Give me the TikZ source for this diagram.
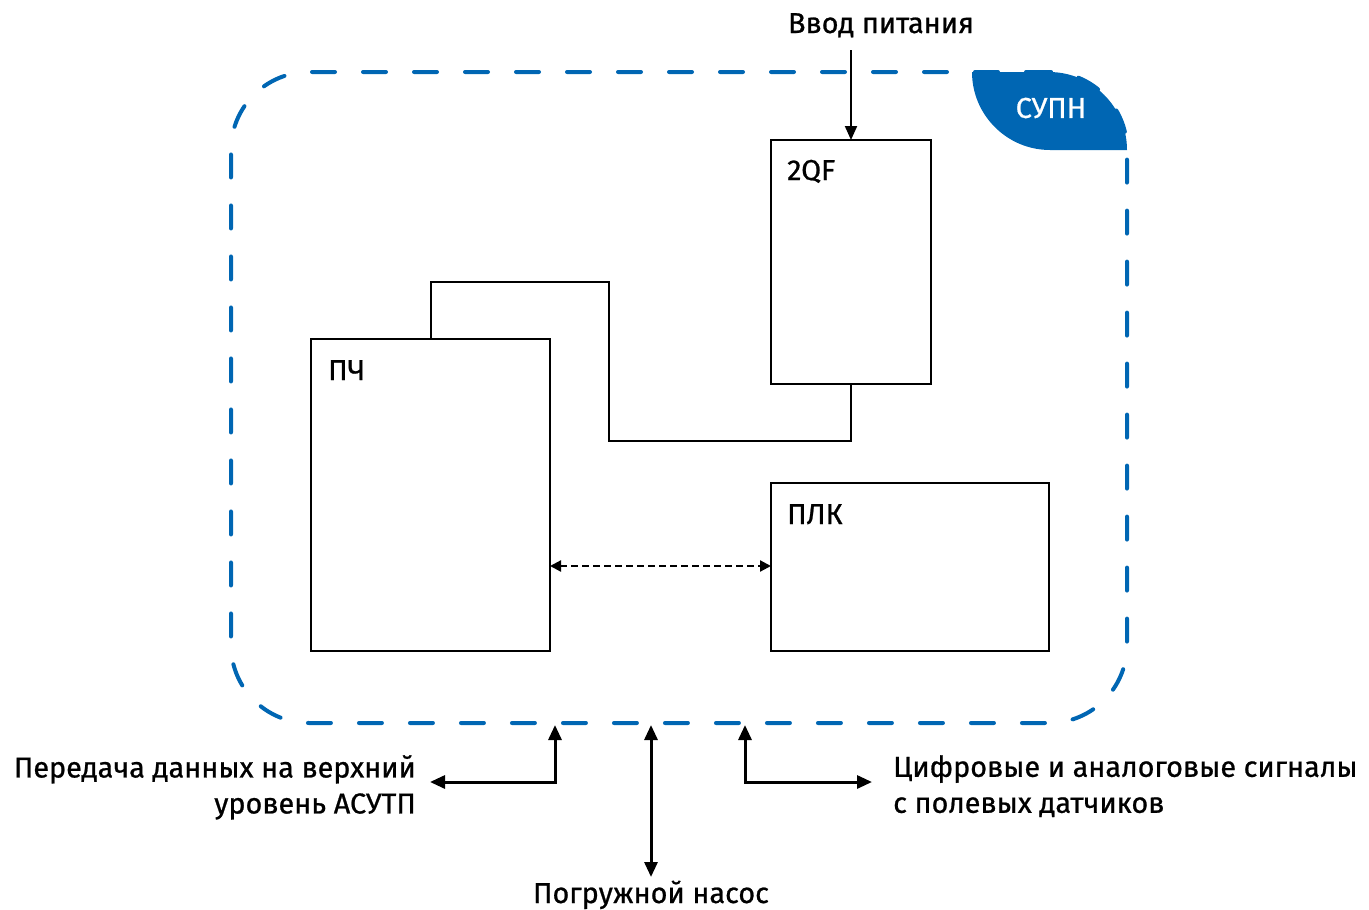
\documentclass[tikz,border=0pt]{standalone}
\usepackage{fontspec}
\setmainfont{Fira Sans}[RawFeature={embolden=0.8}]
\usetikzlibrary{arrows.meta,calc}
\definecolor{supnblue}{RGB}{0,102,179}

\begin{document}
\begin{tikzpicture}[x=1pt,y=-1pt,
  font=\fontsize{28.8}{36}\selectfont,
  frame/.style={draw=supnblue, line width=4pt, line cap=round,
    dash pattern=on 23pt off 28pt, rounded corners=78pt,
    inner sep=0pt, outer sep=0pt},
  block/.style={draw, line width=2pt, inner sep=0pt, outer sep=0pt},
  tag/.style={anchor=base west, inner sep=0pt},
  wire/.style={line width=2pt},
  feedarrow/.style={line width=2pt, -{Triangle[length=14pt,width=12pt]}},
  flow/.style={line width=3pt,
    {Triangle[length=15pt,width=13pt]}-{Triangle[length=15pt,width=13pt]}},
  datalink/.style={line width=2.2pt, dash pattern=on 7pt off 4pt,
    {Triangle[length=11pt,width=11pt]}-{Triangle[length=11pt,width=11pt]}},
  caption/.style={inner sep=0pt}
]
\useasboundingbox (0,0) rectangle (1369,910);

% cabinet outline
\node[frame, minimum width=896pt, minimum height=651pt] (cab) at (679,397.5) {};

% cabinet name tab
\fill[supnblue] (972,72) -- (1049,72)
  .. controls (1092,72) and (1127,107) .. (1127,150)
  -- (1050,150) .. controls (1007,150) and (972,115) .. (972,72) -- cycle;
\node[caption, text=white] (cabname) at (1051,108) {СУПН};

% equipment
\node[block, minimum width=160pt, minimum height=244pt] (qf) at (851,262) {};
\node[tag] (qflabel) at ($(qf.north west)+(16,40)$) {2QF};
\node[block, minimum width=239pt, minimum height=312pt] (pch) at (430.5,495) {};
\node[tag] (pchlabel) at ($(pch.north west)+(17,41)$) {ПЧ};
\node[block, minimum width=278pt, minimum height=168pt] (plc) at (910,567) {};
\node[tag] (plclabel) at ($(plc.north west)+(16,41)$) {ПЛК};

% power feed
\node[caption, anchor=base] (feedlabel) at (881,33) {Ввод питания};
\coordinate (feed) at (851,50);
\draw[feedarrow] (feed) -- (qf.north);

% power wiring from breaker to drive
\draw[wire] (pch.north) |- (609,282) |- (851,441) -- (qf.south);

% drive to controller data link
\draw[datalink] (pch.east |- 0,566) -- (plc.west |- 0,566);

% external connections
\coordinate (portL) at (555,725);
\coordinate (endL) at (430,782);
\coordinate (portM) at (651,725);
\coordinate (endM) at (651,877);
\coordinate (portR) at (745,725);
\coordinate (endR) at (872,782);
\draw[flow] (portL) |- (endL);
\draw[flow] (portM) -- (endM);
\draw[flow] (portR) |- (endR);

\node[caption, anchor=north east, align=right] (scada) at (416,755)
  {Передача данных на верхний\\уровень АСУТП};
\node[caption, anchor=north west, align=left] (sensors) at (893,755)
  {Цифровые и аналоговые сигналы\\с полевых датчиков};
\node[caption, anchor=base] (pump) at (651,903) {Погружной насос};
\end{tikzpicture}
\end{document}
